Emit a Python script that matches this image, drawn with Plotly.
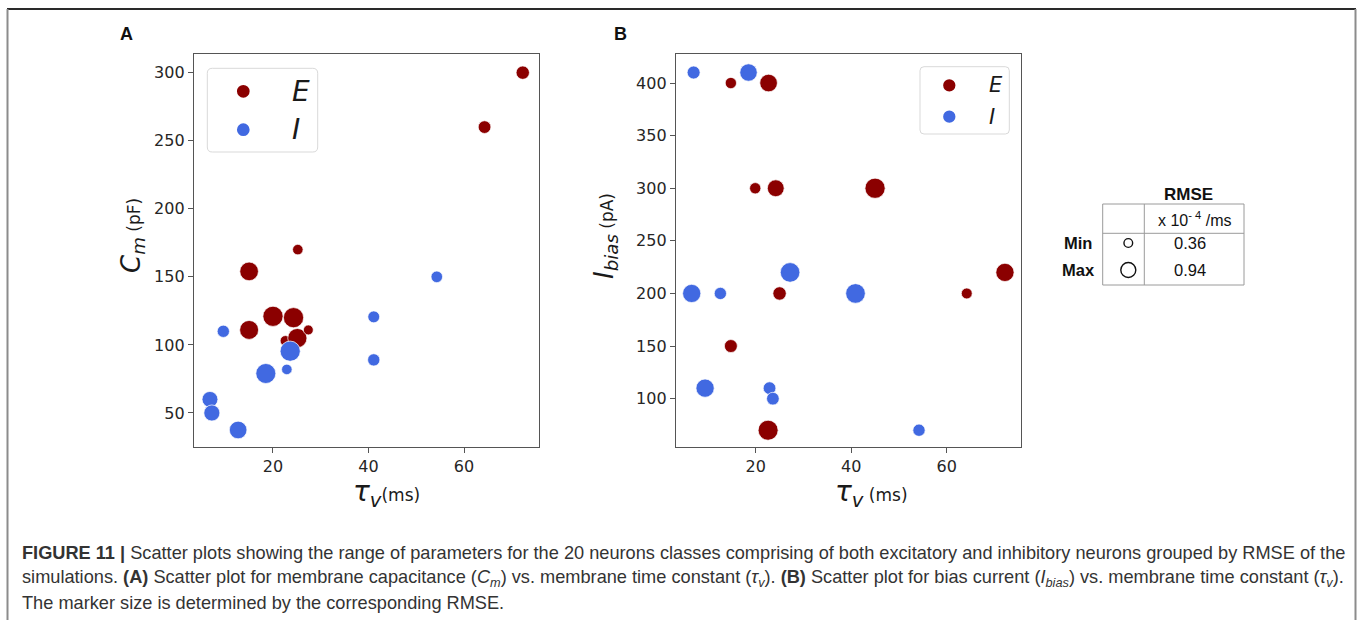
import plotly.graph_objects as go

W, H = 1357, 620

# ---------------- data ----------------
# Panel A: membrane capacitance vs membrane time constant
A_E_tau = [72.3, 64.3, 25.2, 15.0, 20.0, 24.3, 15.0, 22.6, 25.1, 27.4]
A_E_cm = [300, 260, 170, 154, 121, 120, 111, 103, 105, 111]
A_E_rmse = [0.555, 0.52, 0.41, 0.82, 0.90, 0.90, 0.835, 0.41, 0.85, 0.38]

A_I_tau = [54.3, 41.1, 41.1, 9.6, 23.6, 22.9, 18.5, 6.8, 7.2, 12.7]
A_I_cm = [150, 120.6, 89, 110, 95.4, 82, 79, 60, 50, 37.5]
A_I_rmse = [0.465, 0.48, 0.50, 0.50, 0.90, 0.41, 0.89, 0.68, 0.69, 0.77]

# Panel B: bias current vs membrane time constant
B_E_tau = [14.8, 22.7, 19.9, 24.2, 45.0, 72.2, 64.2, 25.0, 14.8, 22.6]
B_E_ibias = [400, 400, 300, 300, 300, 220, 200, 200, 150, 70]
B_E_rmse = [0.45, 0.77, 0.45, 0.73, 0.90, 0.80, 0.43, 0.555, 0.535, 0.89]

B_I_tau = [7.0, 18.5, 27.2, 6.6, 12.6, 40.9, 9.4, 22.9, 23.6, 54.2]
B_I_ibias = [410, 410, 220, 200, 200, 200, 110, 110, 100, 70]
B_I_rmse = [0.535, 0.76, 0.87, 0.80, 0.50, 0.87, 0.80, 0.52, 0.52, 0.50]

GROUPS = ["E", "I"]
X_TICKS = [20, 40, 60]
A_Y_TICKS = [50, 100, 150, 200, 250, 300]
B_Y_TICKS = [100, 150, 200, 250, 300, 350, 400]
RMSE_MIN, RMSE_MAX = 0.36, 0.94
RMSE_ROWS = ["Min", "Max"]
RMSE_VALUES = ["0.36", "0.94"]

CAPTION = [
    "<b>FIGURE 11 |</b> Scatter plots showing the range of parameters for the 20 neurons classes "
    "comprising of both excitatory and inhibitory neurons grouped by RMSE of the",
    "simulations. <b>(A)</b> Scatter plot for membrane capacitance (<i>C<sub>m</sub></i>) vs. "
    "membrane time constant (<i>τ<sub>v</sub></i>). <b>(B)</b> Scatter plot for bias current "
    "(<i>I<sub>bias</sub></i>) vs. membrane time constant (<i>τ<sub>v</sub></i>).",
    "The marker size is determined by the corresponding RMSE.",
]

# ---------------- styles ----------------
COLORS = {"E": "#8B0000", "I": "#4169E1"}
D_MIN, D_MAX = 9.5, 21.0
TICK_FONT = dict(family="DejaVu Sans", size=16, color="#262626")
AXIS_COLOR = "#555555"


def px(x):
    return x / W


def py(y):
    return 1 - y / H


def sizes(rmse):
    return [D_MIN + (r - RMSE_MIN) / (RMSE_MAX - RMSE_MIN) * (D_MAX - D_MIN) for r in rmse]


fig = go.Figure()

panelA = {"E": (A_E_tau, A_E_cm, A_E_rmse), "I": (A_I_tau, A_I_cm, A_I_rmse)}
panelB = {"E": (B_E_tau, B_E_ibias, B_E_rmse), "I": (B_I_tau, B_I_ibias, B_I_rmse)}

for (panel, xa, ya) in [(panelA, "x", "y"), (panelB, "x2", "y2")]:
    for g in GROUPS:
        t, v, r = panel[g]
        fig.add_trace(go.Scatter(
            x=t, y=v, mode="markers", name=g, xaxis=xa, yaxis=ya, showlegend=False,
            marker=dict(size=sizes(r), color=COLORS[g], opacity=1,
                        line=dict(color="white", width=0.7)),
        ))

axis_common = dict(showline=True, mirror=True, linecolor=AXIS_COLOR, linewidth=1.3,
                   ticks="outside", ticklen=5, tickwidth=1.2, tickcolor=AXIS_COLOR,
                   showgrid=False, zeroline=False, tickfont=TICK_FONT)

yA0, yA1 = py(447), py(54)
fig.update_layout(
    width=W, height=H, margin=dict(l=0, r=0, t=0, b=0),
    paper_bgcolor="white", plot_bgcolor="white",
    xaxis=dict(domain=[px(194), px(539)], range=[3.46, 75.7], tickvals=X_TICKS,
               anchor="y", **axis_common),
    yaxis=dict(domain=[yA0, yA1], range=[25.0, 313.7], tickvals=A_Y_TICKS,
               anchor="x", **axis_common),
    xaxis2=dict(domain=[px(676), px(1021)], range=[3.31, 75.56], tickvals=X_TICKS,
                anchor="y2", **axis_common),
    yaxis2=dict(domain=[yA0, yA1], range=[54.05, 427.6], tickvals=B_Y_TICKS,
                anchor="x2", **axis_common),
)

shapes = []
ann = []


def text(x, y, s, size, family="DejaVu Sans", color="#1a1a1a", xanchor="center",
         angle=0, yanchor="middle"):
    ann.append(dict(x=px(x), y=py(y), xref="paper", yref="paper", text=s, showarrow=False,
                    font=dict(family=family, size=size, color=color), xanchor=xanchor,
                    yanchor=yanchor, textangle=angle))


def line(x0, y0, x1, y1, color, width):
    shapes.append(dict(type="line", xref="paper", yref="paper", x0=px(x0), y0=py(y0),
                       x1=px(x1), y1=py(y1), line=dict(color=color, width=width)))


def circle(cx, cy, d, fill=None, lc=None, lw=0):
    shapes.append(dict(type="circle", xref="paper", yref="paper",
                       x0=px(cx - d / 2), x1=px(cx + d / 2), y0=py(cy + d / 2), y1=py(cy - d / 2),
                       fillcolor=fill if fill else "rgba(0,0,0,0)",
                       line=dict(color=lc if lc else "rgba(0,0,0,0)", width=lw)))


def rounded_box(x0, y0, x1, y1, r):
    rx, ry = r, r
    p = (f"M {px(x0+rx)},{py(y0)} L {px(x1-rx)},{py(y0)} Q {px(x1)},{py(y0)} {px(x1)},{py(y0+ry)} "
         f"L {px(x1)},{py(y1-ry)} Q {px(x1)},{py(y1)} {px(x1-rx)},{py(y1)} "
         f"L {px(x0+rx)},{py(y1)} Q {px(x0)},{py(y1)} {px(x0)},{py(y1-ry)} "
         f"L {px(x0)},{py(y0+ry)} Q {px(x0)},{py(y0)} {px(x0+rx)},{py(y0)} Z")
    shapes.append(dict(type="path", xref="paper", yref="paper", path=p,
                       fillcolor="rgba(255,255,255,0.8)", line=dict(color="#d9d9d9", width=1)))


# outer frame
line(7, 9, 1356, 9, "#2a2a2a", 2)
line(7.5, 9, 7.5, 620, "#8c8c8c", 2)
line(1355.5, 9, 1355.5, 620, "#8c8c8c", 2)

# panel letters
text(126, 34, "<b>A</b>", 18, family="Liberation Sans", color="#111")
text(620, 34, "<b>B</b>", 18, family="Liberation Sans", color="#111")

# axis titles
text(133, 236, "<i>C</i><sub><i>m</i></sub><span style='font-size:17px'> (pF)</span>", 26,
     angle=-90)
text(386, 493, "<i>τ</i><sub><i>v</i></sub><span style='font-size:17px'>(ms)</span>", 28)
text(606, 236, "<i>I</i><sub><i>bias</i></sub><span style='font-size:17px'> (pA)</span>", 26,
     angle=-90)
text(871, 493, "<i>τ</i><sub><i>v</i></sub><span style='font-size:17px'> (ms)</span>", 28)

# legends
rounded_box(207.3, 68.3, 317.7, 152, 5)
for g, yy in zip(GROUPS, [91.3, 129.7]):
    circle(243.3, yy, 12.7, fill=COLORS[g])
    text(289.5, yy, f"<i>{g}</i>", 28, xanchor="left")
rounded_box(920, 66.7, 1009.3, 134, 4)
for g, yy in zip(GROUPS, [85.3, 116.7]):
    circle(949.3, yy, 12.3, fill=COLORS[g])
    text(987, yy, f"<i>{g}</i>", 21, xanchor="left")

# RMSE table
TG = "#9a9a9a"
for yy in [204, 233.3, 285]:
    line(1102.7, yy, 1244, yy, TG, 1)
for xx in [1102.7, 1144.3, 1244]:
    line(xx, 204, xx, 285, TG, 1)
text(1188, 195, "<b>RMSE</b>", 17, family="Liberation Sans", color="#111")
text(1195, 219, "x 10<sup>- 4</sup> /ms", 16, family="Liberation Sans", color="#111")
for lab, val, yy, d in zip(RMSE_ROWS, RMSE_VALUES, [243, 270], [8.7, 15]):
    text(1078, yy, f"<b>{lab}</b>", 16.5, family="Liberation Sans", color="#111")
    text(1190, yy, val, 16.5, family="Liberation Sans", color="#111")
    circle(1128.3, yy, d, lc="#111", lw=1.4)

# caption
for s, yy in zip(CAPTION, [553, 578, 603]):
    text(20, yy, s, 18.2, family="Liberation Sans", color="#333333", xanchor="left")

fig.update_layout(shapes=shapes, annotations=ann)
fig.write_html(
    "out.html",
    config={"displayModeBar": False},
    post_script="document.body.style.margin='0';document.body.style.padding='0';"
                "document.documentElement.style.overflow='hidden';",
)
